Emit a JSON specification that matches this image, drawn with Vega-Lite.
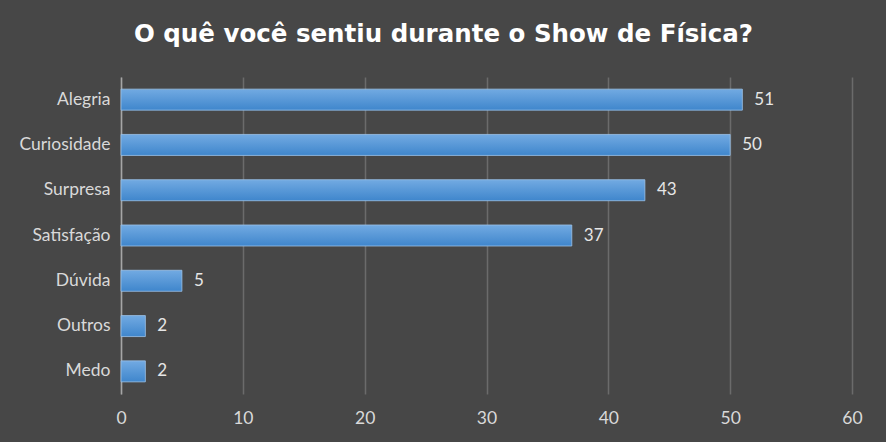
{
  "$schema": "https://vega.github.io/schema/vega-lite/v6.json",
  "width": 731,
  "height": 317,
  "autosize": {"type": "none"},
  "padding": {"left": 121, "top": 77, "right": 34, "bottom": 48},
  "background": "#474747",
  "title": {
    "text": "O quê você sentiu durante o Show de Física?",
    "font": "DejaVu Sans",
    "fontSize": 24.5,
    "fontWeight": "bold",
    "color": "#ffffff",
    "anchor": "middle",
    "dx": -43,
    "offset": 30
  },
  "data": {
    "values": [
      {"sentimento": "Alegria", "respostas": 51},
      {"sentimento": "Curiosidade", "respostas": 50},
      {"sentimento": "Surpresa", "respostas": 43},
      {"sentimento": "Satisfação", "respostas": 37},
      {"sentimento": "Dúvida", "respostas": 5},
      {"sentimento": "Outros", "respostas": 2},
      {"sentimento": "Medo", "respostas": 2}
    ]
  },
  "encoding": {
    "y": {
      "field": "sentimento",
      "type": "nominal",
      "sort": null,
      "title": null,
      "scale": {"paddingInner": 0.536, "paddingOuter": 0.268},
      "axis": {
        "ticks": false,
        "domainColor": "#a6a6a6",
        "domainWidth": 1.5,
        "labelColor": "#d9d9d9",
        "labelFont": "Lato",
        "labelFontSize": 17.5,
        "labelPadding": 11
      }
    },
    "x": {
      "field": "respostas",
      "type": "quantitative",
      "title": null,
      "scale": {"domain": [0, 60]},
      "axis": {
        "values": [0, 10, 20, 30, 40, 50, 60],
        "domain": false,
        "ticks": false,
        "grid": true,
        "gridColor": "#6b6b6b",
        "gridWidth": 1.5,
        "labelFlush": false,
        "labelColor": "#d9d9d9",
        "labelFont": "Lato",
        "labelFontSize": 17.5,
        "labelPadding": 15
      }
    }
  },
  "layer": [
    {
      "mark": {
        "type": "bar",
        "stroke": "#9cc3ea",
        "strokeWidth": 0.8,
        "color": {
          "gradient": "linear",
          "x1": 0, "y1": 0, "x2": 0, "y2": 1,
          "stops": [
            {"offset": 0, "color": "#72aae2"},
            {"offset": 1, "color": "#3f86cc"}
          ]
        }
      }
    },
    {
      "mark": {
        "type": "text",
        "align": "left",
        "dx": 12,
        "font": "Lato",
        "fontSize": 17,
        "color": "#e6e6e6"
      },
      "encoding": {"text": {"field": "respostas", "type": "quantitative"}}
    }
  ],
  "config": {"view": {"stroke": null}}
}
